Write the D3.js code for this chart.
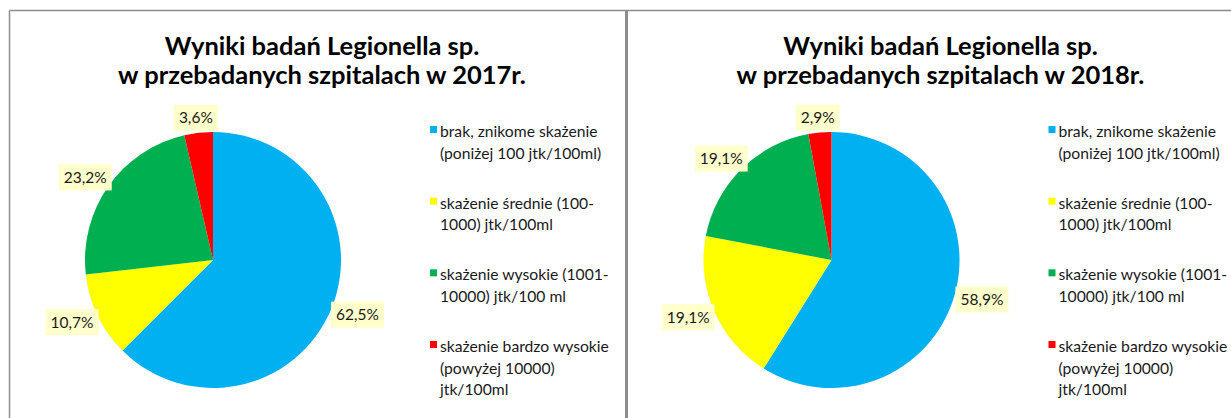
<!DOCTYPE html>
<html>
<head>
<meta charset="utf-8">
<script src="https://cdn.jsdelivr.net/npm/d3@7"></script>
<style>
  body { margin: 0; background: #fff; }
  svg { display: block; }
</style>
</head>
<body>
<svg id="chart" width="1231" height="418"></svg>
<script>
// legend categories (already wrapped like in the original)
var categories = [
    ["brak, znikome skażenie", "(poniżej 100 jtk/100ml)"],
    ["skażenie średnie (100-", "1000) jtk/100ml"],
    ["skażenie wysokie (1001-", "10000) jtk/100 ml"],
    ["skażenie bardzo wysokie", "(powyżej 10000)", "jtk/100ml"]
];
var colors = ["#00B0F0", "#FFFF00", "#00B050", "#FF0000"];
var years = ["2017", "2018"];
// percentages, same order as categories
var values2017 = [62.5, 10.7, 23.2, 3.6];
var values2018 = [58.9, 19.1, 19.1, 2.9];
var titleLine1 = "Wyniki badań Legionella sp.";
var titleLine2 = "w przebadanych szpitalach w ";

var panels = [
    { year: years[0], values: values2017 },
    { year: years[1], values: values2018 }
];

var svg = d3.select("#chart");
var W = 1231, H = 418;

svg.append("rect").attr("width", W).attr("height", H).attr("fill", "#fff");

// frame
var panelX = d3.scalePoint().domain([0, 1]).range([9.5, 628]);
var radius = 128;
var pieCx = 203.5, pieCy = 260;

var pie = d3.pie().sort(null).value(function(d) { return d; });
var arc = d3.arc().innerRadius(0).outerRadius(radius);
var pct = function(v) { return d3.format(".1f")(v).replace(".", ",") + "%"; };

// legend vertical layout
var legendY = d3.scaleLinear().domain([0, 3]).range([137, 352]);
var lineH = 21.5;

panels.forEach(function(p, i) {
    var g = svg.append("g").attr("transform", "translate(" + panelX(i) + ",0)");

    // title
    var t = g.append("text")
        .attr("x", 312.5)
        .attr("text-anchor", "middle")
        .attr("font-family", "Lato, 'Open Sans', sans-serif")
        .attr("font-weight", "bold")
        .attr("font-size", 25.5)
        .attr("fill", "#000");
    t.append("tspan").attr("x", 312.5).attr("y", 55).text(titleLine1);
    t.append("tspan").attr("x", 312.5).attr("y", 84).text(titleLine2 + p.year + "r.");

    // pie
    var pg = g.append("g").attr("transform", "translate(" + pieCx + "," + pieCy + ")");
    var arcs = pie(p.values);
    pg.selectAll("path.slice")
        .data(arcs)
        .enter().append("path")
        .attr("class", "slice")
        .attr("d", arc)
        .attr("fill", function(d, j) { return colors[j]; });

    // data labels, placed just outside the slice
    var lab = pg.selectAll("g.lab")
        .data(arcs)
        .enter().append("g")
        .attr("class", "lab");
    lab.append("rect").attr("fill", "#FFFFCC");
    lab.append("text")
        .attr("text-anchor", "middle")
        .attr("font-family", "Lato, 'Open Sans', sans-serif")
        .attr("font-size", 15.5)
        .attr("fill", "#1a1a1a")
        .attr("y", 5.5)
        .text(function(d) { return pct(d.value); });
    lab.each(function(d) {
        var node = d3.select(this);
        var w = node.select("text").node().getComputedTextLength();
        var hw = w / 2 + 5, hh = 13;
        var mid = (d.startAngle + d.endAngle) / 2;
        var sx = Math.sin(mid), sy = -Math.cos(mid);
        var cx = (radius + 2) * sx + sx * hw;
        var cy = (radius + 2) * sy + sy * hh;
        node.attr("transform", "translate(" + cx + "," + cy + ")");
        node.select("rect")
            .attr("x", -hw).attr("y", -hh)
            .attr("width", hw * 2).attr("height", hh * 2);
    });

    // legend
    var lg = g.selectAll("g.leg")
        .data(categories)
        .enter().append("g")
        .attr("class", "leg")
        .attr("transform", function(d, j) { return "translate(420.5," + legendY(j) + ")"; });
    lg.append("rect")
        .attr("x", 0).attr("y", -11)
        .attr("width", 7).attr("height", 7)
        .attr("fill", function(d, j) { return colors[j]; });
    lg.append("text")
        .attr("font-family", "Lato, 'Open Sans', sans-serif")
        .attr("font-size", 15.7)
        .attr("fill", "#1a1a1a")
        .selectAll("tspan")
        .data(function(d) { return d; })
        .enter().append("tspan")
        .attr("x", 10)
        .attr("y", function(d, k) { return k * lineH; })
        .text(function(d) { return d; });
});

// panel borders
svg.append("line").attr("x1", 9.5).attr("y1", 10.5).attr("x2", W).attr("y2", 10.5)
    .attr("stroke", "#8c8c8c").attr("stroke-width", 1.5);
svg.append("line").attr("x1", 9.5).attr("y1", 10.5).attr("x2", 9.5).attr("y2", H)
    .attr("stroke", "#8c8c8c").attr("stroke-width", 1.5);
svg.append("line").attr("x1", 626.5).attr("y1", 10.5).attr("x2", 626.5).attr("y2", H)
    .attr("stroke", "#8c8c8c").attr("stroke-width", 3);
</script>
</body>
</html>
